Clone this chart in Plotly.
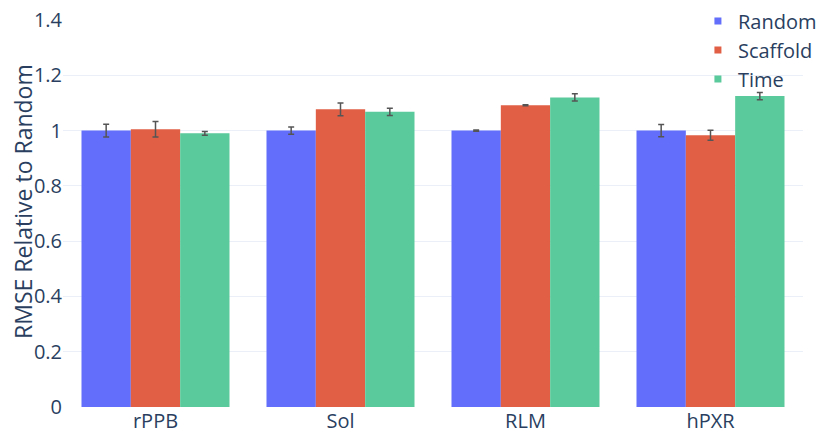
import plotly.graph_objects as go

categories = ["rPPB", "Sol", "RLM", "hPXR"]
series_names = ["Random", "Scaffold", "Time"]
random_vals = [1.0, 1.0, 1.0, 1.0]
random_err = [0.023, 0.013, 0.002, 0.022]
scaffold_vals = [1.005, 1.077, 1.0915, 0.983]
scaffold_err = [0.028, 0.023, 0.002, 0.018]
time_vals = [0.99, 1.068, 1.12, 1.125]
time_err = [0.007, 0.013, 0.013, 0.013]
colors = ["#636EFA", "#E05F45", "#5AC99B"]
y_title = "RMSE Relative to Random"

fig = go.Figure()
for name, vals, errs, col in zip(series_names,
                                 [random_vals, scaffold_vals, time_vals],
                                 [random_err, scaffold_err, time_err],
                                 colors):
    fig.add_trace(go.Bar(
        x=categories, y=vals, name=name, legendgroup=name, showlegend=False,
        marker=dict(color=col, line=dict(width=0)),
        error_y=dict(type="data", array=errs, visible=True,
                     color="#555555", thickness=1.5, width=3),
    ))
for name, col in zip(series_names, colors):
    fig.add_trace(go.Scatter(
        x=[None], y=[None], mode="markers", name=name, legendgroup=name,
        marker=dict(symbol="square", size=7, color=col),
    ))

fig.add_annotation(text=y_title, xref="paper", yref="paper", x=0, y=0.53,
                   xshift=-40, textangle=-90, showarrow=False,
                   xanchor="center", yanchor="middle",
                   font=dict(size=23, color="#2a3f5f"))

fig.update_layout(
    template="plotly_white",
    width=816, height=431,
    margin=dict(l=63, r=13, t=20, b=24, autoexpand=False),
    barmode="group", bargap=0.2, bargroupgap=0,
    font=dict(family="Open Sans", size=20, color="#2a3f5f"),
    legend=dict(x=0.858, y=1.048, xanchor="left", yanchor="top",
                font=dict(size=20), bgcolor="rgba(0,0,0,0)",
                tracegroupgap=0, itemwidth=30),
    yaxis=dict(range=[0, 1.4001], dtick=0.2, ticklabeloverflow="allow",
               gridcolor="#EBF0F8", zeroline=False, ticks="", ticklen=0),
    xaxis=dict(showgrid=False, ticks="", ticklabeloverflow="allow"),
)

fig.write_html("out.html",
               config={"displayModeBar": False},
               post_script="document.body.style.margin='0';document.body.style.overflow='hidden';")
